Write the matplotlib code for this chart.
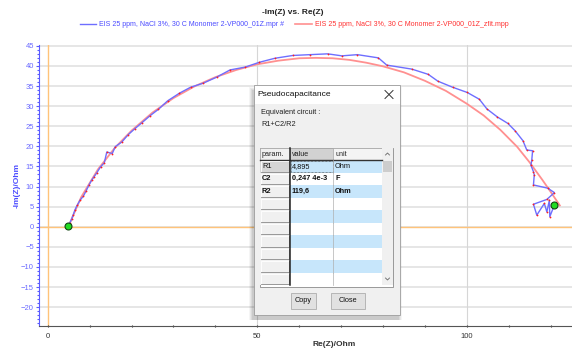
import numpy as np
import matplotlib
matplotlib.use("Agg")
import matplotlib.pyplot as plt
from matplotlib.patches import Rectangle
from matplotlib.lines import Line2D
from matplotlib.ticker import MultipleLocator

plt.rcParams['font.family'] = ['Liberation Sans', 'DejaVu Sans']

# measured impedance data (Re(Z), -Im(Z)) in Ohm
re_z = [4.9, 5.3, 5.7, 6.1, 6.5, 7.0, 7.7, 8.5, 9.2, 9.8, 10.5, 11.1, 11.7, 12.6, 13.5,
        14.1, 15.4, 16.1, 17.7, 19.2, 20.8, 22.4, 24.4, 26.4, 28.6, 31.4, 34.1, 37.1,
        40.3, 43.5, 47.1, 50.5, 54.2, 58.5, 62.6, 66.8, 70.2, 73.9, 78.9, 80.9, 86.9,
        90.8, 93.1, 96.6, 100.1, 103.0, 104.8, 107.3, 109.8, 111.5, 113.4, 114.3, 115.7,
        115.5, 115.3, 115.9, 116.1, 115.9, 119.3, 120.9, 119.1, 115.9, 116.7, 118.5,
        119.1, 119.7, 119.8, 120.9]
im_z = [0.2, 1.0, 1.9, 3.0, 4.2, 5.3, 6.6, 7.6, 9.0, 10.3, 11.6, 12.5, 13.4, 14.9, 15.9,
        18.6, 18.2, 19.9, 21.1, 22.9, 24.4, 25.8, 27.6, 29.2, 31.3, 33.2, 34.7, 35.7,
        37.2, 39.0, 39.7, 40.9, 41.9, 42.6, 42.8, 43.0, 42.5, 42.8, 42.0, 40.2, 39.2,
        37.9, 36.2, 34.7, 33.4, 31.7, 29.3, 27.3, 25.7, 23.9, 21.4, 19.1, 18.9,
        16.6, 15.3, 13.7, 12.9, 10.4, 9.6, 8.5, 6.8, 5.6, 2.9, 5.8,
        3.7, 6.6, 2.5, 5.4]

# fitted curve (zfit)
fit_re = [4.9, 8, 12, 16, 20, 25, 30, 35, 40, 45, 50, 55, 60, 64, 68, 72, 76, 80, 85,
          90, 95, 100, 104, 108, 112, 115, 118, 120, 122.2]
fit_im = [0.0, 7.4, 14.3, 19.6, 23.9, 28.4, 32.0, 34.9, 37.2, 39.0, 40.4, 41.3, 41.9,
          42.0, 41.9, 41.5, 40.8, 39.9, 38.4, 36.3, 33.8, 30.6, 27.7, 24.1, 19.9,
          16.0, 11.7, 8.7, 5.3]

label_data = "EIS 25 ppm, NaCl 3%, 30 C Monomer 2-VP000_01Z.mpr #"
label_fit = "EIS 25 ppm, NaCl 3%, 30 C Monomer 2-VP000_01Z_zfit.mpp"

# dialog table content
params = ["R1", "C2", "R2"]
values = ["4,895", "0,247 4e-3", "119,6"]
units = ["Ohm", "F", "Ohm"]

W, H = 572, 351
fig = plt.figure(figsize=(W / 100, H / 100), dpi=100)
ax = fig.add_axes([39.5 / W, 1 - 325.7 / H, (572 - 39.5) / W, (325.7 - 45) / H])

ax.set_xlim(-1.96, 125.1)
ax.set_ylim(-24.6, 45.2)

for yv in range(-20, 46, 5):
    ax.axhline(yv, color='#e4e4e4', lw=1.3, zorder=0)
for xv in (50, 100):
    ax.axvline(xv, color='#d6d6d6', lw=0.8, zorder=0)
ax.axhline(0, color='#ffc37a', lw=1.0, zorder=1)
ax.axvline(0, color='#ffc37a', lw=1.0, zorder=1)

ax.plot(fit_re, fit_im, color='#ff9090', lw=1.3, zorder=2)
ax.plot(re_z, im_z, color='#6e6eff', lw=1.0, zorder=3)
ax.plot(re_z, im_z, ls='none', marker='o', ms=1.3, color='#ff2020', mec='none', zorder=4)
ax.plot([re_z[0], re_z[-1]], [im_z[0], im_z[-1]], ls='none', marker='o', ms=5,
        mfc='#22dd22', mec='#114411', mew=0.8, zorder=5)

for s in ('top', 'right'):
    ax.spines[s].set_visible(False)
ax.spines['left'].set_color('#5a5aff')
ax.spines['bottom'].set_color('#555555')
ax.spines['bottom'].set_linewidth(0.8)

ax.yaxis.set_major_locator(MultipleLocator(5))
ax.yaxis.set_minor_locator(MultipleLocator(1))
ax.xaxis.set_major_locator(MultipleLocator(50))
ax.xaxis.set_minor_locator(MultipleLocator(10))
ax.tick_params(axis='y', which='major', length=2.5, width=0.8, color='#5a5aff',
               labelcolor='#6a6aff', labelsize=5.5, pad=1.5)
ax.tick_params(axis='y', which='minor', length=1.5, width=0.8, color='#5a5aff')
ax.tick_params(axis='x', which='both', length=2, width=0.8, color='#333333',
               labelcolor='#333333', labelsize=5.5, pad=4, direction='inout')

fig.text(17 / W, 1 - 185 / H, '-Im(Z)/Ohm', rotation=90, color='#4a4aff',
         fontsize=6, fontweight='bold', ha='center', va='center')
fig.text(334 / W, 1 - 345 / H, 'Re(Z)/Ohm', color='#333333',
         fontsize=6, fontweight='bold', ha='center', va='center')
fig.text(293 / W, 1 - 12 / H, '-Im(Z) vs. Re(Z)', color='#222222',
         fontsize=6, fontweight='bold', ha='center', va='center')

handles = [Line2D([], [], color='#6e6eff', lw=1.0), Line2D([], [], color='#ff9090', lw=1.2)]
leg = fig.legend(handles, [label_data, label_fit], loc='center', ncol=2, frameon=False,
                 bbox_to_anchor=(294 / W, 1 - 25 / H), fontsize=5.0, handlelength=2.4,
                 handletextpad=0.4, columnspacing=1.6)
leg.get_texts()[0].set_color('#4a4aff')
leg.get_texts()[1].set_color('#ff3030')

# overlay dialog, drawn in pixel coordinates
ov = fig.add_axes([0, 0, 1, 1])
ov.set_xlim(0, W)
ov.set_ylim(H, 0)
ov.axis('off')

dx0, dy0, dx1, dy1 = 254, 85, 400, 315
for i, a in enumerate([0.04, 0.05, 0.06, 0.07]):
    ov.add_patch(Rectangle((dx0 - 5 + i, dy0 + 2 + i), dx1 - dx0 + 7 - 2 * i, dy1 - dy0 + 3 - i,
                           fc='black', ec='none', alpha=a))
ov.add_patch(Rectangle((dx0, dy0), dx1 - dx0, dy1 - dy0, fc='#f0f0f0', ec='#9c9c9c', lw=0.6))
ov.add_patch(Rectangle((dx0 + 0.5, dy0 + 0.5), dx1 - dx0 - 1, 18, fc='#ffffff', ec='none'))
ov.text(257, 94.5, 'Pseudocapacitance', fontsize=6, va='center', ha='left', color='#111111')
ov.plot([385, 393], [90.5, 98.5], color='#333333', lw=0.7)
ov.plot([385, 393], [98.5, 90.5], color='#333333', lw=0.7)
ov.text(261, 113, 'Equivalent circuit :', fontsize=5.3, va='center', color='#222222')
ov.text(261, 124, 'R1+C2/R2', fontsize=5.3, va='center', color='#222222')

cols = [260, 290, 333, 382, 393]
ty0, hdr_h, row_h, nrows = 148, 12, 12.5, 10
ov.add_patch(Rectangle((cols[0], ty0), cols[-1] - cols[0], hdr_h + row_h * nrows + 2,
                       fc='#ffffff', ec='#8a8a8a', lw=0.6))
for j, (name, bg) in enumerate(zip(['param.', 'value', 'unit'], ['#f0f0f0', '#d2d2d2', '#f4f4f4'])):
    ov.add_patch(Rectangle((cols[j], ty0), cols[j + 1] - cols[j], hdr_h, fc=bg, ec='#a0a0a0', lw=0.4))
    ov.text(cols[j] + 2, ty0 + hdr_h / 2, name, fontsize=5.2, va='center', color='#222222')
ov.plot([cols[0], cols[3]], [ty0 + hdr_h, ty0 + hdr_h], color='#333333', lw=1.0)

for i in range(nrows):
    y = ty0 + hdr_h + row_h * i
    pbg = '#d6d6d6' if i == 0 else '#f0f0f0'
    ov.add_patch(Rectangle((cols[0], y), cols[1] - cols[0], row_h, fc=pbg, ec='none'))
    ov.plot([cols[0] + 1, cols[0] + 1, cols[1] - 1], [y + row_h - 1, y + 1, y + 1], color='white', lw=0.6)
    ov.plot([cols[0] + 1, cols[1] - 1, cols[1] - 1], [y + row_h - 0.7, y + row_h - 0.7, y + 1],
            color='#8a8a8a', lw=0.6)
    cbg = '#c7e6fb' if i % 2 == 0 else '#ffffff'
    for j in (1, 2):
        cell = Rectangle((cols[j], y), cols[j + 1] - cols[j], row_h, fc=cbg, ec='none')
        ov.add_patch(cell)
    ov.plot([cols[2], cols[2]], [y, y + row_h], color='#b0b0b0', lw=0.5)
    if i < len(params):
        wt = 'normal' if i == 0 else 'bold'
        ov.text(cols[0] + 2, y + row_h / 2, params[i], fontsize=5.3, va='center',
                fontweight=wt, color='#111111')
        clip = Rectangle((cols[1], y), cols[2] - cols[1] - 0.5, row_h, fc='none', ec='none')
        ov.add_patch(clip)
        t = ov.text(cols[1] + 1.5, y + row_h / 2, values[i], fontsize=5.3, va='center',
                    fontweight=wt, color='#111111')
        t.set_clip_path(clip)
        ov.text(cols[2] + 2, y + row_h / 2, units[i], fontsize=5.3, va='center',
                fontweight=wt, color='#111111')
ov.add_patch(Rectangle((cols[1] + 0.5, ty0 + hdr_h + 0.5), cols[2] - cols[1] - 1, row_h - 1,
                       fc='none', ec='#333333', lw=0.5, ls=(0, (1, 1))))
ov.plot([cols[1], cols[1]], [ty0, ty0 + hdr_h + row_h * nrows], color='#222222', lw=1.1)

# scrollbar
ov.add_patch(Rectangle((cols[3], ty0), cols[4] - cols[3], hdr_h + row_h * nrows, fc='#f0f0f0', ec='none'))
ov.add_patch(Rectangle((cols[3] + 1, ty0 + hdr_h + 0.5), cols[4] - cols[3] - 2, 11, fc='#cdcdcd', ec='none'))
ov.plot([385.5, 387.5, 389.5], [155, 153, 155], color='#666666', lw=0.6)
ov.plot([385.5, 387.5, 389.5], [278, 280, 278], color='#666666', lw=0.6)

# buttons
for (bx0, bx1, txt) in [(291, 316, 'Copy'), (331, 365, 'Close')]:
    ov.add_patch(Rectangle((bx0, 293), bx1 - bx0, 16, fc='#e1e1e1', ec='#adadad', lw=0.6))
    ov.text((bx0 + bx1) / 2, 301, txt, fontsize=5.3, ha='center', va='center', color='#111111')

fig.savefig('out.png', dpi=100)
